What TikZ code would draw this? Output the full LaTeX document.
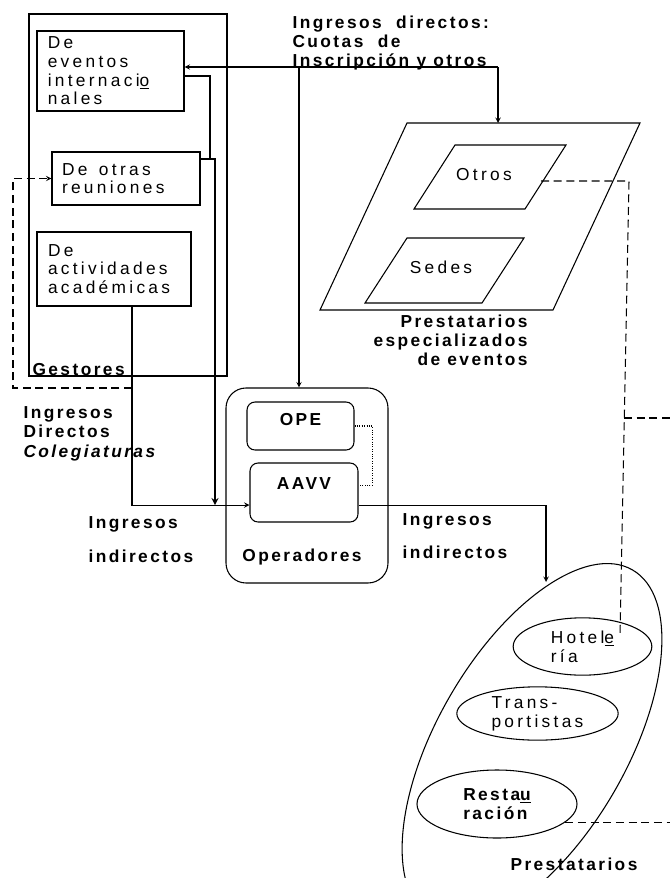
\documentclass[tikz,border=0pt]{standalone}
\usepackage{fontspec}
\usetikzlibrary{shapes.geometric}
\newfontfamily\txtreg[LetterSpace=19]{Liberation Sans}
\newfontfamily\txtbold[LetterSpace=14]{Liberation Sans}

\begin{document}
\begin{tikzpicture}[x=0.75pt, y=-0.75pt, >=stealth, line width=0.8pt,
    every node/.style={font=\txtreg\fontsize{13}{14}\selectfont, inner sep=0pt},
    caja/.style={draw, align=left},
    etiq/.style={font=\txtbold\bfseries\fontsize{13}{14.5}\selectfont, align=left},
    punteada/.style={dash pattern=on 6pt off 3.5pt}]
    \useasboundingbox (0,0) rectangle (670,878);

    % Gestores
    \node[draw, minimum width=148.5pt, minimum height=271.5pt] (gest) at (128,195) {};
    \node[etiq, anchor=base west] (gestLbl) at (32,375) {Gestores};
    \node[caja, minimum width=110.25pt, minimum height=60pt, text width=94pt] (evt) at (110.5,71) {De\\eventos\\internaci\underline{o}\\nales};
    \node[caja, minimum width=111pt, minimum height=39.75pt, text width=96pt] (reun) at (126,178.5) {De\ \ otras\\reuniones};
    \node[caja, minimum width=115.5pt, minimum height=55.5pt, text width=99pt] (acad) at (114,269) {De\\actividades\\académicas};

    % Prestatarios especializados de eventos
    \draw (407,123) -- (640,123) -- (553,310) -- (320,310) -- cycle;
    \coordinate (peTop) at (499,123);
    \draw (455,145) -- (566,145) -- (525,209) -- (414,209) -- cycle;
    \node (otros) at (484,175) {Otros};
    \draw (407,238) -- (524,238) -- (482,303) -- (365,303) -- cycle;
    \node (sedes) at (441,267) {Sedes};
    \node[etiq, align=right, anchor=north east] (peLbl) at (528,314) {Prestatarios\\especializados\\de eventos};

    % Operadores
    \node[draw, rounded corners=15pt, minimum width=121.5pt, minimum height=146.25pt] (oper) at (307,485.5) {};
    \node[etiq] (operLbl) at (302,557) {Operadores};
    \node[draw, rounded corners=6pt, minimum width=80.25pt, minimum height=36pt, etiq, align=center, text depth=9.5pt] (ope) at (300.5,426) {OPE};
    \node[draw, rounded corners=6pt, minimum width=81pt, minimum height=44.25pt, etiq, align=center, text depth=12.8pt] (aavv) at (304,492.5) {AAVV};
    \draw[densely dotted] (ope.east) -- ++(18,0) |- ([yshift=5.6pt]aavv.east);

    % Prestatarios
    \node[draw, ellipse, minimum width=301.5pt, minimum height=142.5pt, rotate=60] (prest) at (532,744) {};
    \node[draw, ellipse, minimum width=104pt, minimum height=43pt, align=left] (hotel) at (582.5,646.5) {Hotel\underline{e}\\ría};
    \node[draw, ellipse, minimum width=121pt, minimum height=40pt, align=left] (trans) at (537.5,713.5) {Trans-\\portistas};
    \node[draw, ellipse, minimum width=120pt, minimum height=51pt, etiq] (resta) at (497,804) {Resta\underline{u}\\ración};
    \node[etiq, anchor=base west] (prestLbl) at (510,870) {Prestatarios};

    % Ingresos directos: cuotas
    \node[etiq, anchor=north west] (cuotaLbl) at (292,15) {Ingresos\ \ directos:\\Cuotas\ \ de\\Inscripción y otros};
    \coordinate (cuotaR) at (498,67);
    \coordinate (cuotaOp) at (299,67);
    \draw[->] (cuotaR) -- (cuotaR -| evt.east);
    \draw[->] (cuotaR) -- (cuotaR |- peTop);
    \draw[->] (cuotaOp) -- (cuotaOp |- oper.north);

    % Flujos de los gestores
    \draw ([yshift=-3.75pt]evt.east) -| (210,159);
    \draw[->, line width=1.3pt] ([yshift=14.6pt]reun.east) -| (215,505);
    \draw[->] ([xshift=13.5pt]acad.south) |- ([yshift=-9.4pt]aavv.west);
    \draw[punteada, ->] (132,388) -- (13,388) |- (reun.west);

    % Ingresos indirectos hacia prestatarios
    \coordinate (prestIn) at (546,582);
    \draw[->] ([yshift=-9.4pt]aavv.east) -| (prestIn);

    % Lineas discontinuas de la derecha
    \coordinate (otrosR) at (541,181);
    \coordinate (hotelIn) at (620,636);
    \coordinate (bordeDer) at (670,0);
    \draw[punteada] (otrosR) -- (629,181) -- (hotelIn);
    \draw[punteada] (624,418) -- (670,418);
    \draw[punteada] (resta.-15) -- (resta.-15 -| bordeDer);

    % Etiquetas de ingresos
    \node[etiq, anchor=north west] (colLbl) at (23,406) {Ingresos\\Directos\\\textit{Colegiaturas}};
    \node[etiq, anchor=north west] (indIzq) at (88,516) {Ingresos\\[11pt]indirectos};
    \node[etiq, anchor=north west] (indDer) at (402,513) {Ingresos\\[10pt]indirectos};
\end{tikzpicture}
\end{document}
